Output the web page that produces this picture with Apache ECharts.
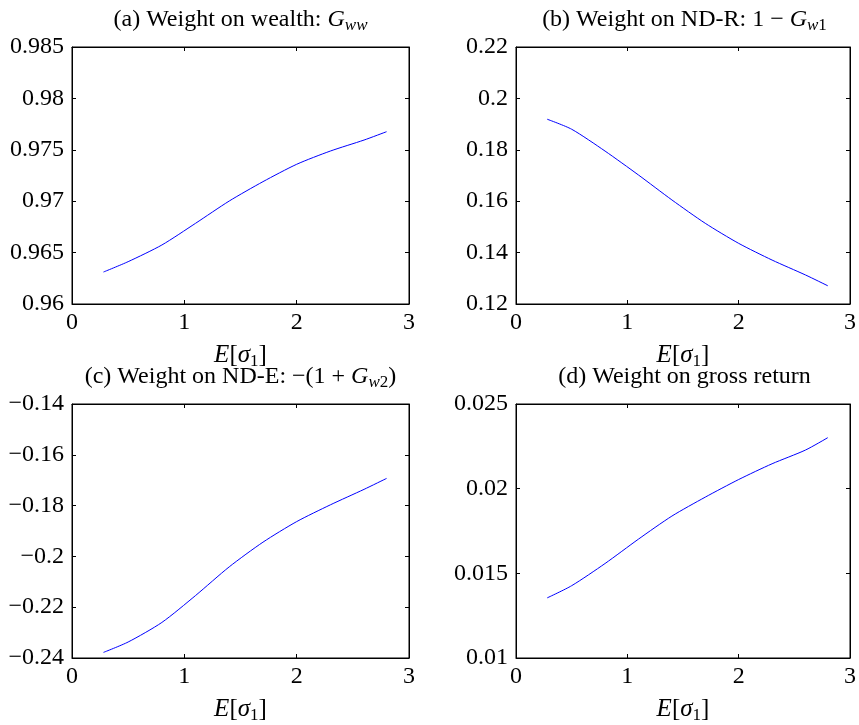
<!DOCTYPE html>
<html>
<head>
<meta charset="utf-8">
<script src="https://cdn.jsdelivr.net/npm/echarts@6/dist/echarts.min.js"></script>
<style>
html,body{margin:0;padding:0;background:#fff;}
#chart{width:859px;height:725px;}
</style>
</head>
<body>
<div id="chart"></div>
<script>
// Shared x grid: E[sigma_1]
const xVals = [0.28, 0.5, 0.8, 1.1, 1.4, 1.7, 2.0, 2.3, 2.6, 2.8];
// (a) Weight on wealth: G_ww
const seriesA = [0.96311, 0.96412, 0.96574, 0.96785, 0.97002, 0.97190, 0.97359, 0.97488, 0.97595, 0.97676];
// (b) Weight on ND-R: 1 - G_w1
const seriesB = [0.1919, 0.1880, 0.1795, 0.1702, 0.1605, 0.1514, 0.1436, 0.1371, 0.1313, 0.1271];
// (c) Weight on ND-E: -(1 + G_w2)
const seriesC = [-0.2378, -0.2337, -0.2260, -0.2154, -0.2041, -0.1944, -0.1863, -0.1797, -0.1736, -0.1693];
// (d) Weight on gross return
const seriesD = [0.01355, 0.01427, 0.01558, 0.01702, 0.01838, 0.01950, 0.02054, 0.02147, 0.02228, 0.02301];

const xTicks = [0, 1, 2, 3];
const yRanges = [
  {min: 0.96, max: 0.985, interval: 0.005},
  {min: 0.12, max: 0.22, interval: 0.02},
  {min: -0.24, max: -0.14, interval: 0.02},
  {min: 0.01, max: 0.025, interval: 0.005}
];
const allSeries = [seriesA, seriesB, seriesC, seriesD];

const FONT = 'Liberation Serif';
const grids = [
  {left: 72, top: 47, width: 337, height: 257},
  {left: 516, top: 47, width: 337, height: 257},
  {left: 72, top: 404, width: 337, height: 259},
  {left: 516, top: 404, width: 337, height: 259}
];

const rich = {
  n: {fontFamily: FONT, fontSize: 24, color: '#000'},
  i: {fontFamily: FONT, fontSize: 24, fontStyle: 'italic', color: '#000'},
  si: {fontFamily: FONT, fontSize: 17, fontStyle: 'italic', color: '#000', padding: [12, 0, 0, 0]},
  sn: {fontFamily: FONT, fontSize: 17, color: '#000', padding: [12, 0, 0, 0]}
};
const richX = {
  n: {fontFamily: FONT, fontSize: 25, color: '#000'},
  i: {fontFamily: FONT, fontSize: 25, fontStyle: 'italic', color: '#000'},
  sn: {fontFamily: FONT, fontSize: 17, color: '#000', padding: [12, 0, 0, 0]}
};
const titles = [
  '{n|(a) Weight on wealth: }{i|G}{si|ww}',
  '{n|(b) Weight on ND-R: 1 − }{i|G}{si|w}{sn|1}',
  '{n|(c) Weight on ND-E: −(1 + }{i|G}{si|w}{sn|2}{n|)}',
  '{n|(d) Weight on gross return}'
];
const xName = '{i|E}{n|[}{i|σ}{sn|1}{n|]}';

function fmt(v) {
  return String(+v.toFixed(4)).replace('-', '−');
}

const option = {
  animation: false,
  backgroundColor: '#fff',
  grid: [],
  xAxis: [],
  yAxis: [],
  series: [],
  graphic: []
};

grids.forEach((g, k) => {
  option.grid.push(Object.assign({show: true, borderColor: '#000', borderWidth: 1, backgroundColor: '#fff'}, g));
  const yr = yRanges[k];
  option.xAxis.push({
    type: 'value', gridIndex: k, min: xTicks[0], max: xTicks[xTicks.length - 1], interval: 1,
    position: 'bottom',
    axisLine: {show: true, onZero: false, lineStyle: {color: '#000', width: 1}},
    axisTick: {show: true, inside: true, length: 4, lineStyle: {color: '#000'}},
    axisLabel: {fontFamily: FONT, fontSize: 24, color: '#000', margin: 7},
    splitLine: {show: false},
    name: xName, nameLocation: 'middle', nameGap: 37,
    nameTextStyle: {rich: richX}
  });
  option.xAxis.push({
    type: 'value', gridIndex: k, min: xTicks[0], max: xTicks[xTicks.length - 1], interval: 1,
    position: 'top',
    axisLine: {show: true, onZero: false, lineStyle: {color: '#000', width: 1}},
    axisTick: {show: true, inside: true, length: 4, lineStyle: {color: '#000'}},
    axisLabel: {show: false}, splitLine: {show: false}
  });
  option.yAxis.push({
    type: 'value', gridIndex: k, min: yr.min, max: yr.max, interval: yr.interval,
    position: 'left',
    axisLine: {show: true, onZero: false, lineStyle: {color: '#000', width: 1}},
    axisTick: {show: true, inside: true, length: 4, lineStyle: {color: '#000'}},
    axisLabel: {fontFamily: FONT, fontSize: 24, color: '#000', margin: 8, formatter: fmt},
    splitLine: {show: false}
  });
  option.yAxis.push({
    type: 'value', gridIndex: k, min: yr.min, max: yr.max, interval: yr.interval,
    position: 'right',
    axisLine: {show: true, onZero: false, lineStyle: {color: '#000', width: 1}},
    axisTick: {show: true, inside: true, length: 4, lineStyle: {color: '#000'}},
    axisLabel: {show: false}, splitLine: {show: false}
  });
  option.series.push({
    type: 'line', xAxisIndex: 2 * k, yAxisIndex: 2 * k,
    data: xVals.map((x, j) => [x, allSeries[k][j]]),
    smooth: 0.25, showSymbol: false, symbol: 'none',
    lineStyle: {color: '#0000ff', width: 1}
  });
  option.graphic.push({
    type: 'text',
    x: g.left + g.width / 2,
    y: g.top - 27,
    style: {text: titles[k], rich: rich, align: 'center', verticalAlign: 'middle'}
  });
});

const chart = echarts.init(document.getElementById('chart'), null, {renderer: 'canvas'});
chart.setOption(option);
</script>
</body>
</html>
